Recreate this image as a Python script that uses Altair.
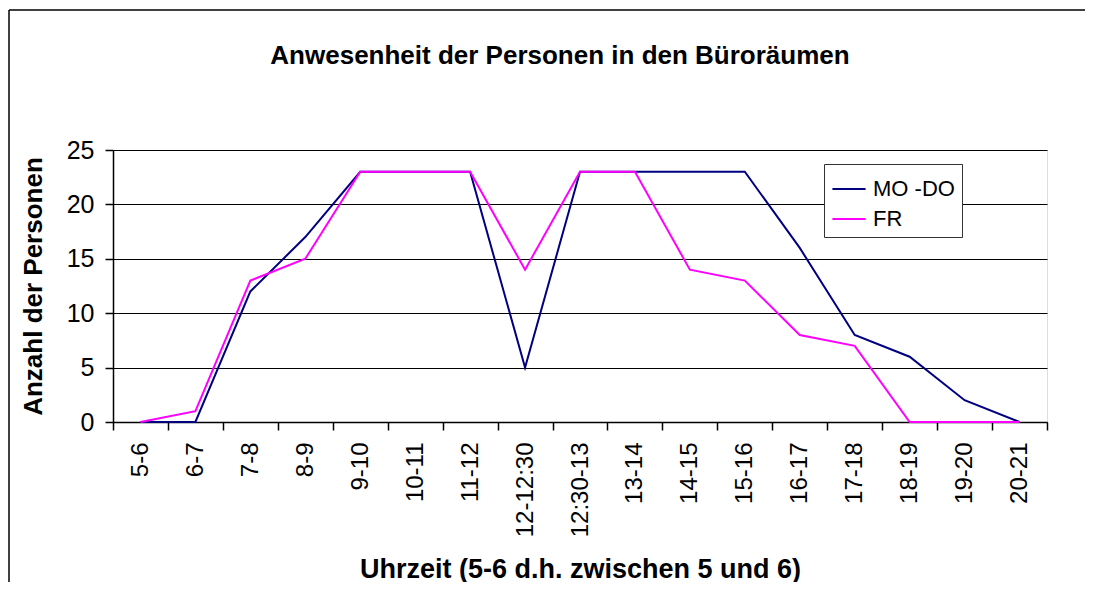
import altair as alt
import pandas as pd

categories = ["5-6", "6-7", "7-8", "8-9", "9-10", "10-11", "11-12", "12-12:30",
              "12:30-13", "13-14", "14-15", "15-16", "16-17", "17-18", "18-19",
              "19-20", "20-21"]
mo_do = [0, 0, 12, 17, 23, 23, 23, 5, 23, 23, 23, 23, 16, 8, 6, 2, 0]
fr = [0, 1, 13, 15, 23, 23, 23, 14, 23, 23, 14, 13, 8, 7, 0, 0, 0]
series_names = ["MO -DO", "FR"]
series_colors = ["#000080", "#FF00FF"]
y_ticks = [0, 5, 10, 15, 20, 25]
chart_title = "Anwesenheit der Personen in den Büroräumen"

rows = []
for name, vals in zip(series_names, [mo_do, fr]):
    for c, v in zip(categories, vals):
        rows.append({"Uhrzeit": c, "Anzahl": v, "Serie": name})
df = pd.DataFrame(rows)

W, H = 934, 272
PL, PT, PR, PB = 105, 142, 38, 160
FONT = "Liberation Sans"

lines = alt.Chart(df).mark_line(strokeWidth=2).encode(
    x=alt.X(
        "Uhrzeit:N", sort=categories, bandPosition=0.5,
        scale=alt.Scale(type="band", paddingInner=0, paddingOuter=0),
        axis=alt.Axis(
            title="Uhrzeit (5-6 d.h. zwischen 5 und 6)",
            titleFont=FONT, titleFontSize=27, titleFontWeight="bold", titleColor="black",
            titleX=W / 2, titleY=147, titleAlign="center", titleBaseline="middle",
            labelAngle=-90, labelAlign="right", labelBaseline="middle",
            labelFont=FONT, labelFontSize=24, labelColor="black", labelPadding=12,
            tickBand="extent", ticks=True, tickSize=8, tickColor="black", tickWidth=1.5,
            domainColor="black", domainWidth=1.5, grid=False,
        ),
    ),
    y=alt.Y(
        "Anzahl:Q",
        scale=alt.Scale(domain=[0, 25], nice=False),
        axis=alt.Axis(
            title="Anzahl der Personen", values=y_ticks,
            titleFont=FONT, titleFontSize=26, titleFontWeight="bold", titleColor="black",
            titleX=-80, titleY=H / 2, titleAlign="center", titleBaseline="middle", titleAngle=-90,
            labelFont=FONT, labelFontSize=25, labelColor="black", labelPadding=11,
            tickSize=8, tickColor="black", tickWidth=1.5,
            domainColor="black", domainWidth=1.5,
            grid=True, gridColor="black", gridWidth=1,
        ),
    ),
    color=alt.Color(
        "Serie:N",
        sort=series_names,
        scale=alt.Scale(domain=series_names, range=series_colors),
        legend=alt.Legend(
            title=None, orient="none", legendX=711, legendY=14,
            strokeColor="#333333", fillColor="white", padding=7,
            symbolType="stroke", symbolSize=1100, symbolStrokeWidth=2,
            labelFont=FONT, labelFontSize=22, labelColor="black",
            labelOffset=6, rowPadding=1,
        ),
    ),
)

frame_top = alt.Chart(pd.DataFrame({"a": [0]})).mark_rule(
    stroke="black", strokeWidth=1.5
).encode(
    x=alt.value(-PL + 1), x2=alt.value(W + PR + 30),
    y=alt.value(-PT + 2),
)
frame_left = alt.Chart(pd.DataFrame({"a": [0]})).mark_rule(
    stroke="black", strokeWidth=1.5
).encode(
    x=alt.value(-PL + 1),
    y=alt.value(-PT + 2), y2=alt.value(H + PB + 30),
)

title_text = alt.Chart(pd.DataFrame({"t": [chart_title]})).mark_text(
    font=FONT, fontSize=26, fontWeight="bold", color="black",
    align="center", baseline="middle",
).encode(
    text="t:N",
    x=alt.value(W / 2 - 20), y=alt.value(-94),
)

chart = alt.layer(frame_top, frame_left, title_text, lines).properties(
    width=W, height=H,
    padding={"left": PL, "top": PT, "right": PR, "bottom": PB},
    autosize=alt.AutoSizeParams(type="none"),
).configure_view(
    stroke="#808080", strokeWidth=1.5
).configure(background="white")

chart.save("out.html", embed_options={"renderer": "svg", "actions": False})
